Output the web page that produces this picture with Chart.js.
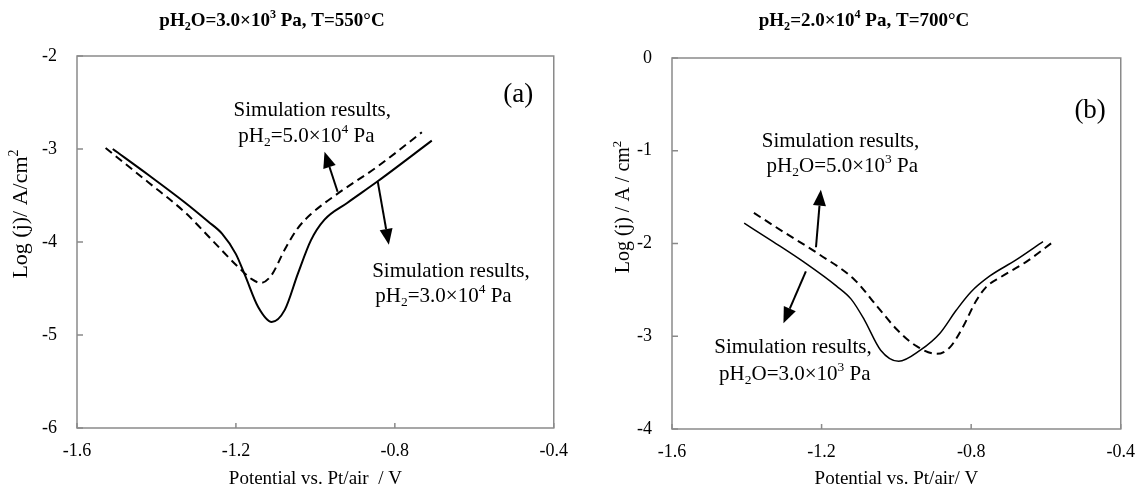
<!DOCTYPE html>
<html>
<head>
<meta charset="utf-8">
<script src="https://cdn.jsdelivr.net/npm/chart.js@4.4.1/dist/chart.umd.min.js"></script>
<style>
  html, body { margin: 0; padding: 0; background: #fff; }
  #wrap { position: relative; width: 1147px; height: 490px; overflow: hidden; }
  .panel { position: absolute; top: 0; }
  #pa { left: 0; }
  #pb { left: 580px; }
</style>
</head>
<body>
<div id="wrap">
  <div class="panel" id="pa"><canvas id="ca" width="580" height="490"></canvas></div>
  <div class="panel" id="pb"><canvas id="cb" width="567" height="490"></canvas></div>
</div>
<script>
// ---- Panel (a): pH2O = 3.0e3 Pa, T = 550 °C ----
const potentialA_pH2_5e4 = [-1.528, -1.42, -1.326, -1.26, -1.194, -1.16, -1.137, -1.111, -1.077, -1.044, -1.011, -0.944, -0.844, -0.732];
const logjA_pH2_5e4      = [-2.99, -3.36, -3.69, -3.98, -4.27, -4.40, -4.44, -4.36, -4.08, -3.85, -3.70, -3.48, -3.19, -2.82];
const potentialA_pH2_3e4 = [-1.51, -1.42, -1.33, -1.27, -1.235, -1.20, -1.177, -1.144, -1.11, -1.077, -1.044, -1.011, -0.977, -0.92, -0.844, -0.707];
const logjA_pH2_3e4      = [-3.00, -3.28, -3.57, -3.78, -3.91, -4.13, -4.36, -4.70, -4.86, -4.73, -4.34, -3.98, -3.76, -3.58, -3.35, -2.91];

// ---- Panel (b): pH2 = 2.0e4 Pa, T = 700 °C ----
const potentialB_pH2O_5e3 = [-1.381, -1.30, -1.209, -1.112, -1.051, -0.998, -0.945, -0.892, -0.857, -0.822, -0.787, -0.76, -0.72, -0.65, -0.58];
const logjB_pH2O_5e3      = [-1.67, -1.88, -2.11, -2.39, -2.68, -2.93, -3.11, -3.19, -3.12, -2.90, -2.62, -2.47, -2.36, -2.19, -1.98];
const potentialB_pH2O_3e3 = [-1.407, -1.33, -1.244, -1.16, -1.121, -1.086, -1.042, -0.994, -0.936, -0.884, -0.84, -0.80, -0.75, -0.681, -0.608];
const logjB_pH2O_3e3      = [-1.78, -1.98, -2.21, -2.46, -2.60, -2.82, -3.15, -3.27, -3.15, -2.97, -2.72, -2.52, -2.35, -2.18, -1.98];

// ---- Axis ticks ----
const xTickValues  = [-1.6, -1.2, -0.8, -0.4];
const yTickValuesA = [-6, -5, -4, -3, -2];
const yTickValuesB = [-4, -3, -2, -1, 0];

const SERIF = "'Liberation Serif', 'Times New Roman', Times, serif";

const pairs = (xs, ys) => xs.map((x, i) => ({ x: x, y: ys[i] }));

// Rich text: "_x" = subscript piece, "^x" = superscript piece
function pieceInfo(p, size) {
  if (p[0] === '_') return { t: p.slice(1), s: size * 0.64, dy: size * 0.2 };
  if (p[0] === '^') return { t: p.slice(1), s: size * 0.64, dy: -size * 0.4 };
  return { t: p, s: size, dy: 0 };
}
function richWidth(ctx, parts, size, weight) {
  let w = 0;
  parts.forEach(p => {
    const k = pieceInfo(p, size);
    ctx.font = weight + ' ' + k.s + 'px ' + SERIF;
    w += ctx.measureText(k.t).width;
  });
  return w;
}
function drawRich(ctx, parts, x, y, size, weight, align) {
  weight = weight || 'normal';
  const w = richWidth(ctx, parts, size, weight);
  let cx = align === 'center' ? x - w / 2 : x;
  ctx.textAlign = 'left';
  ctx.textBaseline = 'alphabetic';
  ctx.fillStyle = '#000';
  parts.forEach(p => {
    const k = pieceInfo(p, size);
    ctx.font = weight + ' ' + k.s + 'px ' + SERIF;
    ctx.fillText(k.t, cx, y + k.dy);
    cx += ctx.measureText(k.t).width;
  });
}

function drawArrow(ctx, x0, y0, x1, y1) {
  const ang = Math.atan2(y1 - y0, x1 - x0);
  const len = 16, half = 6.5;
  const bx = x1 - len * Math.cos(ang), by = y1 - len * Math.sin(ang);
  ctx.save();
  ctx.strokeStyle = '#000';
  ctx.fillStyle = '#000';
  ctx.lineWidth = 2;
  ctx.setLineDash([]);
  ctx.beginPath();
  ctx.moveTo(x0, y0);
  ctx.lineTo(bx, by);
  ctx.stroke();
  ctx.beginPath();
  ctx.moveTo(x1, y1);
  ctx.lineTo(bx + half * Math.sin(ang), by - half * Math.cos(ang));
  ctx.lineTo(bx - half * Math.sin(ang), by + half * Math.cos(ang));
  ctx.closePath();
  ctx.fill();
  ctx.restore();
}

// Frame, inward tick marks, titles and callouts
const panelDecor = {
  id: 'panelDecor',
  afterDatasetsDraw(chart, args, o) {
    const ctx = chart.ctx;
    const a = chart.chartArea;
    const xs = chart.scales.x, ys = chart.scales.y;
    const px = v => xs.getPixelForValue(v), py = v => ys.getPixelForValue(v);

    ctx.save();
    ctx.strokeStyle = '#8a8a8a';
    ctx.lineWidth = 1.5;
    ctx.setLineDash([]);
    ctx.strokeRect(a.left, a.top, a.right - a.left, a.bottom - a.top);
    ctx.beginPath();
    xTickValues.forEach(v => { const x = px(v); ctx.moveTo(x, a.bottom); ctx.lineTo(x, a.bottom - 5); });
    o.yTicks.forEach(v => { const y = py(v); ctx.moveTo(a.left, y); ctx.lineTo(a.left + 6, y); });
    ctx.stroke();
    ctx.restore();

    // chart title
    drawRich(ctx, o.title, o.titleX, o.titleY, 19, 'bold', 'center');

    // axis titles
    drawRich(ctx, o.xTitle, (a.left + a.right) / 2, o.xTitleY, 19, 'normal', 'center');
    ctx.save();
    ctx.translate(o.yTitlePos[0], o.yTitlePos[1]);
    ctx.rotate(-Math.PI / 2);
    drawRich(ctx, o.yTitle, 0, o.yTitleSize * 0.35, o.yTitleSize, 'normal', 'center');
    ctx.restore();

    // panel tag
    drawRich(ctx, [o.tag[0]], px(o.tag[1]), py(o.tag[2]), 27, 'normal', 'left');

    // callouts
    o.notes.forEach(n => {
      n.lines.forEach((ln, i) => drawRich(ctx, ln, px(n.x[i]), py(n.y[i]), 21, 'normal', 'left'));
      drawArrow(ctx, px(n.arrow[0]), py(n.arrow[1]), px(n.arrow[2]), py(n.arrow[3]));
    });
  }
};

function makeChart(id, d, yMin, yMax, yTicks, pad, yAxisWidth, xAxisHeight, decor) {
  return new Chart(document.getElementById(id), {
    type: 'line',
    data: {
      datasets: d.map(s => ({
        data: s.data,
        borderColor: '#000',
        borderWidth: s.width,
        borderDash: s.dash,
        pointRadius: 0,
        fill: false,
        cubicInterpolationMode: 'monotone'
      }))
    },
    options: {
      responsive: false,
      animation: false,
      events: [],
      layout: { padding: pad },
      plugins: { legend: { display: false }, tooltip: { enabled: false }, title: { display: false }, panelDecor: decor },
      scales: {
        x: {
          type: 'linear', min: -1.6, max: -0.4,
          grid: { display: false, drawTicks: false },
          border: { display: false },
          afterBuildTicks: s => { s.ticks = xTickValues.map(v => ({ value: v })); },
          afterFit: s => { s.height = xAxisHeight; },
          ticks: {
            autoSkip: false, maxRotation: 0, padding: 12, color: '#000',
            font: { family: SERIF, size: 18 },
            callback: v => v.toFixed(1)
          }
        },
        y: {
          type: 'linear', min: yMin, max: yMax,
          grid: { display: false, drawTicks: false },
          border: { display: false },
          afterBuildTicks: s => { s.ticks = yTicks.map(v => ({ value: v })); },
          afterFit: s => { s.width = yAxisWidth; },
          ticks: {
            autoSkip: false, padding: 20, color: '#000',
            font: { family: SERIF, size: 18 },
            callback: v => String(v)
          }
        }
      }
    },
    plugins: [panelDecor]
  });
}

makeChart('ca', [
  { data: pairs(potentialA_pH2_5e4, logjA_pH2_5e4), width: 2, dash: [8, 5] },
  { data: pairs(potentialA_pH2_3e4, logjA_pH2_3e4), width: 2, dash: [] }
], -6, -2, yTickValuesA, { left: 0, right: 21, top: 56, bottom: 0 }, 77, 62, {
  yTicks: yTickValuesA,
  title: ['pH', '_2', 'O=3.0×10', '^3', ' Pa, T=550°C'],
  titleX: 272,
  titleY: 26,
  xTitle: ['Potential vs. Pt/air  / V'],
  xTitleY: 484,
  yTitle: ['Log (j)/ A/cm', '^2'],
  yTitleSize: 22,
  yTitlePos: [19, 214],
  tag: ['(a)', -0.527, -2.49],
  notes: [
    { lines: [['Simulation results,'], ['pH', '_2', '=5.0×10', '^4', ' Pa']],
      x: [-1.206, -1.194], y: [-2.64, -2.92], arrow: [-0.944, -3.46, -0.977, -3.03] },
    { lines: [['Simulation results,'], ['pH', '_2', '=3.0×10', '^4', ' Pa']],
      x: [-0.857, -0.849], y: [-4.376, -4.64], arrow: [-0.843, -3.35, -0.815, -4.03] }
  ]
});

makeChart('cb', [
  { data: pairs(potentialB_pH2O_5e3, logjB_pH2O_5e3), width: 2, dash: [8, 5] },
  { data: pairs(potentialB_pH2O_3e3, logjB_pH2O_3e3), width: 1.5, dash: [] }
], -4, 0, yTickValuesB, { left: 0, right: 19, top: 58, bottom: 0 }, 92, 61, {
  yTicks: yTickValuesB,
  title: ['pH', '_2', '=2.0×10', '^4', ' Pa, T=700°C'],
  titleX: 284,
  titleY: 26,
  xTitle: ['Potential vs. Pt/air/ V'],
  xTitleY: 484,
  yTitle: ['Log (j) / A / cm', '^2'],
  yTitleSize: 20,
  yTitlePos: [42, 207],
  tag: ['(b)', -0.524, -0.65],
  notes: [
    { lines: [['Simulation results,'], ['pH', '_2', 'O=5.0×10', '^3', ' Pa']],
      x: [-1.360, -1.347], y: [-0.956, -1.226], arrow: [-1.215, -2.04, -1.202, -1.42] },
    { lines: [['Simulation results,'], ['pH', '_2', 'O=3.0×10', '^3', ' Pa']],
      x: [-1.487, -1.474], y: [-3.184, -3.47], arrow: [-1.242, -2.30, -1.302, -2.86] }
  ]
});
</script>
</body>
</html>
